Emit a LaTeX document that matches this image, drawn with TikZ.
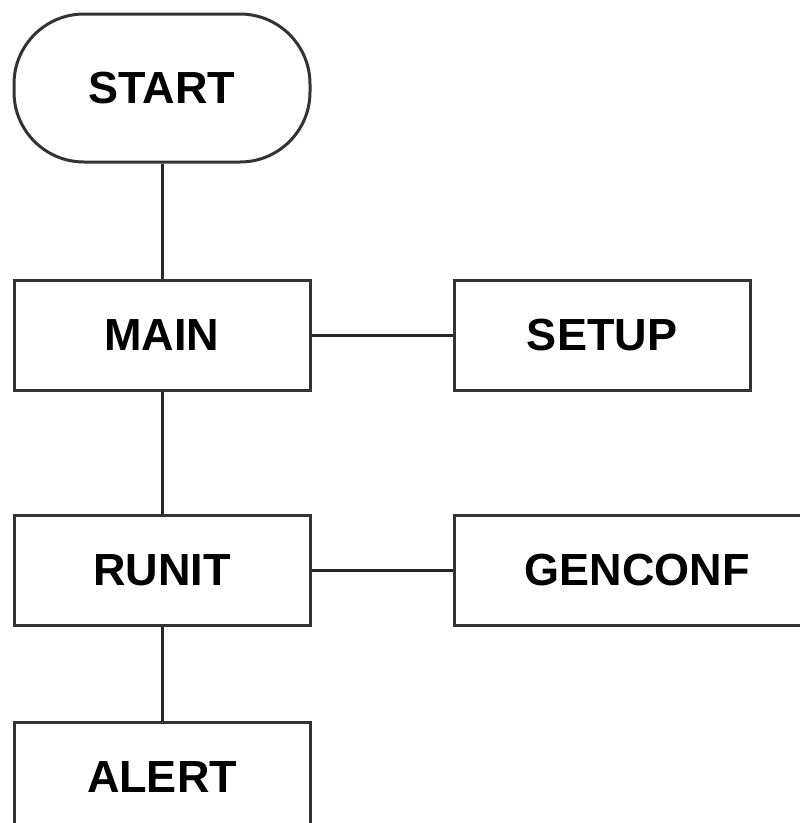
\documentclass[tikz,border=0pt]{standalone}
\usepackage{fontspec}
\setmainfont{Liberation Sans}
\begin{document}
\begin{tikzpicture}[x=1pt,y=-1pt,
  line width=3pt,
  every node/.style={font=\bfseries\fontsize{45}{54}\selectfont, text=black},
  blk/.style={draw=black!80, fill=white, minimum width=296pt, minimum height=110pt, inner sep=0pt},
  term/.style={blk, minimum height=148pt, rounded corners=70pt},
  link/.style={draw=black!85}]
  \clip (0,0) rectangle (800,823);
  \fill[white] (0,0) rectangle (800,823);
  % left column
  \node[term] (start) at (162,88) {START};
  \node[blk] (main) at (162,335) {MAIN};
  \node[blk] (runit) at (162,570) {RUNIT};
  \node[blk] (alert) at (162,777) {ALERT};
  % right column
  \node[blk] (setup) at (602,335) {SETUP};
  \node[blk, minimum width=366pt] (genconf) at (637,570) {GENCONF};
  % connectors
  \draw[link] (start) -- (main);
  \draw[link] (main) -- (runit);
  \draw[link] (runit) -- (alert);
  \draw[link] (main) -- (setup);
  \draw[link] (runit) -- (genconf);
\end{tikzpicture}
\end{document}
